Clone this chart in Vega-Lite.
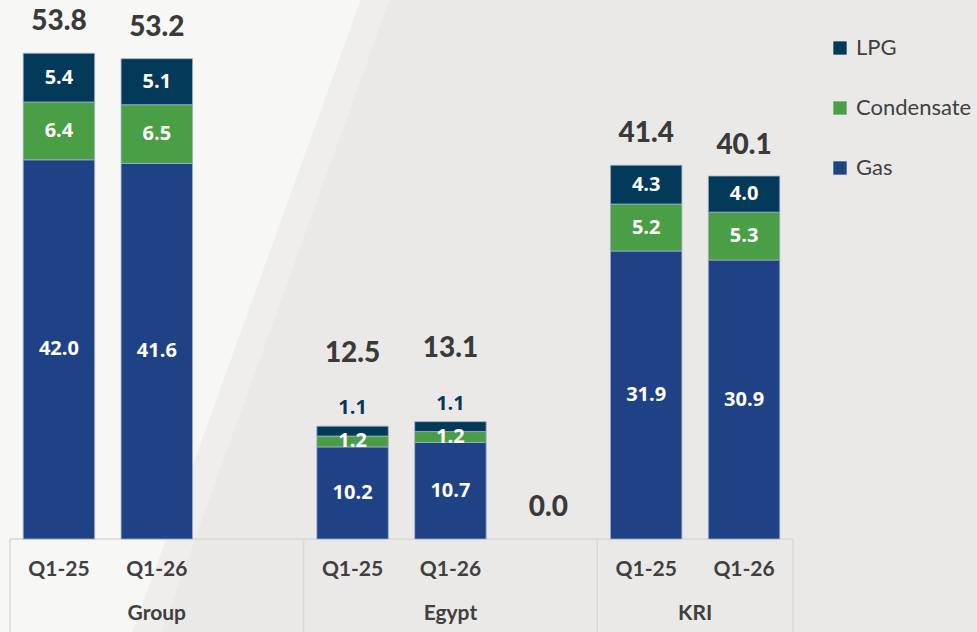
{
  "$schema": "https://vega.github.io/schema/vega-lite/v6.json",
  "width": 977,
  "height": 632,
  "autosize": "none",
  "padding": 0,
  "background": "#ebe9e7",
  "view": {
    "stroke": null,
    "fill": {
      "gradient": "linear",
      "x1": 0, "y1": 0, "x2": 1, "y2": 0.2334,
      "stops": [
        {"offset": 0, "color": "#f7f7f6"},
        {"offset": 0.35, "color": "#f7f7f6"},
        {"offset": 0.35, "color": "#efeeec"},
        {"offset": 0.378, "color": "#efeeec"},
        {"offset": 0.378, "color": "#ebe9e7"},
        {"offset": 1, "color": "#ebe9e7"}
      ]
    }
  },
  "datasets": {
    "parts": [
      {"slot": "G1", "region": "Group", "quarter": "Q1-25", "type": "Gas", "value": 42.0},
      {"slot": "G1", "region": "Group", "quarter": "Q1-25", "type": "Condensate", "value": 6.4},
      {"slot": "G1", "region": "Group", "quarter": "Q1-25", "type": "LPG", "value": 5.4},
      {"slot": "G2", "region": "Group", "quarter": "Q1-26", "type": "Gas", "value": 41.6},
      {"slot": "G2", "region": "Group", "quarter": "Q1-26", "type": "Condensate", "value": 6.5},
      {"slot": "G2", "region": "Group", "quarter": "Q1-26", "type": "LPG", "value": 5.1},
      {"slot": "E1", "region": "Egypt", "quarter": "Q1-25", "type": "Gas", "value": 10.2},
      {"slot": "E1", "region": "Egypt", "quarter": "Q1-25", "type": "Condensate", "value": 1.2},
      {"slot": "E1", "region": "Egypt", "quarter": "Q1-25", "type": "LPG", "value": 1.1},
      {"slot": "E2", "region": "Egypt", "quarter": "Q1-26", "type": "Gas", "value": 10.7},
      {"slot": "E2", "region": "Egypt", "quarter": "Q1-26", "type": "Condensate", "value": 1.2},
      {"slot": "E2", "region": "Egypt", "quarter": "Q1-26", "type": "LPG", "value": 1.1},
      {"slot": "K1", "region": "KRI", "quarter": "Q1-25", "type": "Gas", "value": 31.9},
      {"slot": "K1", "region": "KRI", "quarter": "Q1-25", "type": "Condensate", "value": 5.2},
      {"slot": "K1", "region": "KRI", "quarter": "Q1-25", "type": "LPG", "value": 4.3},
      {"slot": "K2", "region": "KRI", "quarter": "Q1-26", "type": "Gas", "value": 30.9},
      {"slot": "K2", "region": "KRI", "quarter": "Q1-26", "type": "Condensate", "value": 5.3},
      {"slot": "K2", "region": "KRI", "quarter": "Q1-26", "type": "LPG", "value": 4.0}
    ],
    "totals": [
      {"slot": "G1", "region": "Group", "total": 53.8},
      {"slot": "G2", "region": "Group", "total": 53.2},
      {"slot": "E1", "region": "Egypt", "total": 12.5},
      {"slot": "E2", "region": "Egypt", "total": 13.1},
      {"slot": "E3", "region": "Egypt", "total": 0.0},
      {"slot": "K1", "region": "KRI", "total": 41.4},
      {"slot": "K2", "region": "KRI", "total": 40.1}
    ],
    "groups": [
      {"slot": "G2", "name": "Group"},
      {"slot": "E2", "name": "Egypt"},
      {"slot": "K1", "name": "KRI"}
    ],
    "seps": [
      {"slot": "G1", "edge": "start"},
      {"slot": "E1", "edge": "start"},
      {"slot": "K1", "edge": "start"},
      {"slot": "K2", "edge": "end"}
    ],
    "frame": [
      {"from": "G1", "to": "K2"}
    ]
  },
  "layer": [
    {
      "data": {"name": "frame"},
      "mark": {"type": "rule", "color": "#d9d9d9", "strokeWidth": 1.5},
      "encoding": {
        "x": {"field": "from", "type": "nominal", "bandPosition": -0.185,
              "scale": {"domain": ["G1","G2","G3","E1","E2","E3","K1","K2"], "range": [10, 793], "paddingInner": 0.27, "paddingOuter": 0.135}, "axis": null},
        "x2": {"field": "to", "bandPosition": 1.185},
        "y": {"datum": 0, "type": "quantitative", "scale": {"domain": [0, 59.7], "range": [539, 0], "nice": false, "zero": false}, "axis": null}
      }
    },
    {
      "data": {"name": "seps"},
      "transform": [{"filter": "datum.edge === 'start'"}],
      "mark": {"type": "rule", "color": "#d9d9d9", "strokeWidth": 1.5},
      "encoding": {
        "x": {"field": "slot", "type": "nominal", "bandPosition": -0.185,
              "scale": {"domain": ["G1","G2","G3","E1","E2","E3","K1","K2"], "range": [10, 793], "paddingInner": 0.27, "paddingOuter": 0.135}, "axis": null},
        "y": {"datum": 0, "type": "quantitative", "scale": {"domain": [0, 59.7], "range": [539, 0], "nice": false, "zero": false}, "axis": null},
        "y2": {"datum": -10.4}
      }
    },
    {
      "data": {"name": "seps"},
      "transform": [{"filter": "datum.edge === 'end'"}],
      "mark": {"type": "rule", "color": "#d9d9d9", "strokeWidth": 1.5},
      "encoding": {
        "x": {"field": "slot", "type": "nominal", "bandPosition": 1.185,
              "scale": {"domain": ["G1","G2","G3","E1","E2","E3","K1","K2"], "range": [10, 793], "paddingInner": 0.27, "paddingOuter": 0.135}, "axis": null},
        "y": {"datum": 0, "type": "quantitative", "scale": {"domain": [0, 59.7], "range": [539, 0], "nice": false, "zero": false}, "axis": null},
        "y2": {"datum": -10.4}
      }
    },
    {
      "data": {"name": "parts"},
      "transform": [
        {"calculate": "indexof(['Gas','Condensate','LPG'], datum.type)", "as": "ord"},
        {"stack": "value", "groupby": ["slot"], "sort": [{"field": "ord", "order": "ascending"}], "as": ["v0", "v1"]}
      ],
      "mark": {"type": "bar", "stroke": "#9fb0c8", "strokeWidth": 0.8},
      "encoding": {
        "x": {"field": "slot", "type": "nominal",
              "scale": {"domain": ["G1","G2","G3","E1","E2","E3","K1","K2"], "range": [10, 793], "paddingInner": 0.27, "paddingOuter": 0.135},
              "axis": null},
        "y": {"field": "v0", "type": "quantitative", "scale": {"domain": [0, 59.7], "range": [539, 0], "nice": false, "zero": false}, "axis": null},
        "y2": {"field": "v1"},
        "color": {"field": "type", "type": "nominal",
                  "scale": {"domain": ["LPG", "Condensate", "Gas"], "range": ["#033a5a", "#4a9f46", "#1f4287"]},
                  "legend": {
                    "orient": "none", "legendX": 829, "legendY": 37, "title": null,
                    "symbolType": "square", "symbolSize": 177, "symbolStrokeWidth": 0,
                    "labelFont": "Lato", "labelFontSize": 22, "labelColor": "#404040",
                    "rowPadding": 38, "labelOffset": 5
                  }}
      }
    },
    {
      "data": {"name": "parts"},
      "transform": [{"filter": "datum.type === 'Gas'"}],
      "mark": {"type": "text", "font": "Lato", "fontWeight": "bold", "fontSize": 21, "color": "#404040", "baseline": "alphabetic"},
      "encoding": {
        "x": {"field": "slot", "type": "nominal", "scale": {"domain": ["G1","G2","G3","E1","E2","E3","K1","K2"], "range": [10, 793], "paddingInner": 0.27, "paddingOuter": 0.135}, "axis": null},
        "y": {"datum": -4.1, "type": "quantitative", "scale": {"domain": [0, 59.7], "range": [539, 0], "nice": false, "zero": false}, "axis": null},
        "text": {"field": "quarter"}
      }
    },
    {
      "data": {"name": "parts"},
      "transform": [
        {"calculate": "indexof(['Gas','Condensate','LPG'], datum.type)", "as": "ord"},
        {"stack": "value", "groupby": ["slot"], "sort": [{"field": "ord", "order": "ascending"}], "as": ["v0", "v1"]},
        {"calculate": "(datum.v0 + datum.v1) / 2", "as": "mid"},
        {"filter": "!(datum.region === 'Egypt' && datum.type === 'LPG')"}
      ],
      "mark": {"type": "text", "font": "Open Sans", "fontWeight": "bold", "fontSize": 20, "color": "#ffffff", "baseline": "middle"},
      "encoding": {
        "x": {"field": "slot", "type": "nominal", "scale": {"domain": ["G1","G2","G3","E1","E2","E3","K1","K2"], "range": [10, 793], "paddingInner": 0.27, "paddingOuter": 0.135}, "axis": null},
        "y": {"field": "mid", "type": "quantitative", "scale": {"domain": [0, 59.7], "range": [539, 0], "nice": false, "zero": false}, "axis": null},
        "text": {"field": "value", "type": "quantitative", "format": ".1f"}
      }
    },
    {
      "data": {"name": "parts"},
      "transform": [
        {"calculate": "indexof(['Gas','Condensate','LPG'], datum.type)", "as": "ord"},
        {"stack": "value", "groupby": ["slot"], "sort": [{"field": "ord", "order": "ascending"}], "as": ["v0", "v1"]},
        {"filter": "datum.region === 'Egypt' && datum.type === 'LPG'"}
      ],
      "mark": {"type": "text", "font": "Open Sans", "fontWeight": "bold", "fontSize": 20, "color": "#033a5a", "baseline": "alphabetic", "dy": -12},
      "encoding": {
        "x": {"field": "slot", "type": "nominal", "scale": {"domain": ["G1","G2","G3","E1","E2","E3","K1","K2"], "range": [10, 793], "paddingInner": 0.27, "paddingOuter": 0.135}, "axis": null},
        "y": {"field": "v1", "type": "quantitative", "scale": {"domain": [0, 59.7], "range": [539, 0], "nice": false, "zero": false}, "axis": null},
        "text": {"field": "value", "type": "quantitative", "format": ".1f"}
      }
    },
    {
      "data": {"name": "totals"},
      "transform": [{"filter": "datum.region !== 'Egypt' || datum.total === 0"}],
      "mark": {"type": "text", "font": "Lato", "fontWeight": 900, "fontSize": 28, "color": "#3a3a3a", "baseline": "alphabetic", "dy": -23},
      "encoding": {
        "x": {"field": "slot", "type": "nominal", "scale": {"domain": ["G1","G2","G3","E1","E2","E3","K1","K2"], "range": [10, 793], "paddingInner": 0.27, "paddingOuter": 0.135}, "axis": null},
        "y": {"field": "total", "type": "quantitative", "scale": {"domain": [0, 59.7], "range": [539, 0], "nice": false, "zero": false}, "axis": null},
        "text": {"field": "total", "type": "quantitative", "format": ".1f"}
      }
    },
    {
      "data": {"name": "totals"},
      "transform": [{"filter": "datum.region === 'Egypt' && datum.total !== 0"}],
      "mark": {"type": "text", "font": "Lato", "fontWeight": 900, "fontSize": 28, "color": "#3a3a3a", "baseline": "alphabetic", "dy": -64},
      "encoding": {
        "x": {"field": "slot", "type": "nominal", "scale": {"domain": ["G1","G2","G3","E1","E2","E3","K1","K2"], "range": [10, 793], "paddingInner": 0.27, "paddingOuter": 0.135}, "axis": null},
        "y": {"field": "total", "type": "quantitative", "scale": {"domain": [0, 59.7], "range": [539, 0], "nice": false, "zero": false}, "axis": null},
        "text": {"field": "total", "type": "quantitative", "format": ".1f"}
      }
    },
    {
      "data": {"name": "groups"},
      "transform": [{"filter": "datum.name !== 'KRI'"}],
      "mark": {"type": "text", "font": "Lato", "fontWeight": "bold", "fontSize": 21, "color": "#404040", "baseline": "alphabetic"},
      "encoding": {
        "x": {"field": "slot", "type": "nominal", "scale": {"domain": ["G1","G2","G3","E1","E2","E3","K1","K2"], "range": [10, 793], "paddingInner": 0.27, "paddingOuter": 0.135}, "axis": null},
        "y": {"datum": -9.0, "type": "quantitative", "scale": {"domain": [0, 59.7], "range": [539, 0], "nice": false, "zero": false}, "axis": null},
        "text": {"field": "name"}
      }
    },
    {
      "data": {"name": "groups"},
      "transform": [{"filter": "datum.name === 'KRI'"}],
      "mark": {"type": "text", "font": "Lato", "fontWeight": "bold", "fontSize": 21, "color": "#404040", "baseline": "alphabetic"},
      "encoding": {
        "x": {"field": "slot", "type": "nominal", "bandPosition": 1.185, "scale": {"domain": ["G1","G2","G3","E1","E2","E3","K1","K2"], "range": [10, 793], "paddingInner": 0.27, "paddingOuter": 0.135}, "axis": null},
        "y": {"datum": -9.0, "type": "quantitative", "scale": {"domain": [0, 59.7], "range": [539, 0], "nice": false, "zero": false}, "axis": null},
        "text": {"field": "name"}
      }
    }
  ]
}
